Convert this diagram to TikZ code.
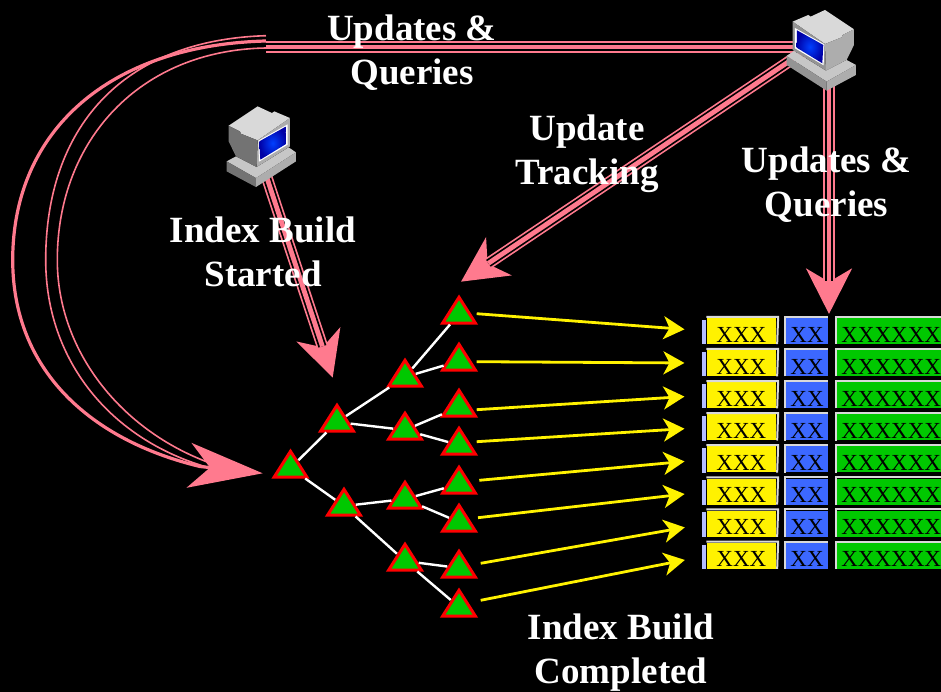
\documentclass[tikz,border=0pt]{standalone}
\usepackage{fontspec}
\setmainfont{Liberation Serif}
\usetikzlibrary{shapes.geometric,arrows.meta}
\definecolor{pinkline}{RGB}{255,122,142}
\definecolor{cellblue}{RGB}{60,104,255}
\definecolor{cellgreen}{RGB}{0,200,0}
\definecolor{stripblue}{RGB}{180,190,255}
\tikzset{
  tree/.style={isosceles triangle,isosceles triangle stretches,shape border rotate=90,draw=red,fill=cellgreen,line width=3pt,minimum width=32.6pt,minimum height=25.7pt,inner sep=0pt,anchor=lower side},
  branch/.style={draw=white,line width=2.4pt},
  yarrow/.style={draw=yellow,line width=2.8pt,shorten >=22pt,-{Stealth[length=21pt,width=23pt,inset=6pt]}},
  tripleline/.style={draw=pinkline,line width=11.6pt,postaction={draw=black,line width=8.2pt},postaction={draw=pinkline,line width=4.8pt}},
  tripletip/.style={draw=pinkline,line width=11.6pt,-{Stealth[length=45pt,width=45pt,inset=13pt]},postaction={draw=black,line width=8.2pt,arrows=-,shorten >=33pt},postaction={draw=pinkline,line width=4.8pt,arrows=-,shorten >=33pt}},
  cell/.style={inner sep=0pt,text=black,font=\fontsize{23}{23}\selectfont,text height=22pt,text depth=0pt,minimum height=26pt},
  bevel/.style={draw=black!15,line width=2pt},
  bigtext/.style={text=white,font=\bfseries\fontsize{37}{44}\selectfont,align=center},
  pics/pcbox/.style 2 args={code={
    % base
    \fill[black!22] (-104,17) -- (-82,2) -- (14,61) -- (76,29) -- (104,44) -- (16,94) -- cycle;
    \fill[black!#2] (-104,17) -- (16,94) -- (16,121) -- (-104,44) -- cycle;
    \fill[black!#1] (16,94) -- (104,44) -- (104,74) -- (16,121) -- cycle;
    % monitor
    \fill[black!15] (-86,-86) -- (-39,-106) -- (-32,-101) -- (11,-121) -- (98,-63) -- (64,-46) -- (61,-39) -- (11,-19) -- cycle;
    \fill[black!#2] (-86,-86) -- (11,-19) -- (14,61) -- (-86,-1) -- cycle;
    \fill[black!#1] (11,-19) -- (61,-39) -- (64,-46) -- (98,-63) -- (98,-16) -- (76,29) -- (14,61) -- cycle;
    % screen
    \fill[white] (-79,-67) -- (9,-18) -- (7,45) -- (-79,-6) -- cycle;
    \shade[inner color=blue!75!cyan,outer color=blue!65!black] (-73,-60) -- (6,-16) -- (3,39) -- (-74,-8) -- cycle;
  }}
}
\begin{document}
\begin{tikzpicture}[x=1pt,y=-1pt]
\useasboundingbox (0,0) rectangle (941,692);
\clip (0,0) rectangle (941,692);
\fill[black] (0,0) rectangle (941,692);
% Pages
\foreach \i in {1,...,8} {
  \pgfmathsetmacro\ry{331+(\i-1)*32.1}
  \node[cell,fill=yellow,minimum width=69.3pt] (a\i) at (741.3,\ry) {XXX};
  \node[cell,fill=cellblue,minimum width=42pt] (b\i) at (807,\ry) {XX};
  \node[cell,fill=cellgreen,text width=104.3pt,align=right] (c\i) at (888.85,\ry) {XXXXXX};
  \draw[bevel] ([yshift=1pt]a\i.north west) -- ([yshift=1pt,xshift=2pt]a\i.north east) -- ([xshift=1pt]a\i.south east);
  \draw[stripblue,line width=3.6pt] ([xshift=-2.5pt,yshift=-2pt]a\i.north west) -- ([xshift=-2.5pt]a\i.south west);
  \draw[bevel] ([xshift=-1pt]b\i.south west) -- ([xshift=-1pt,yshift=1pt]b\i.north west) -- ([yshift=1pt]b\i.north east);
  \draw[bevel] ([xshift=-1pt]c\i.south west) -- ([xshift=-1pt,yshift=1pt]c\i.north west) -- ([yshift=1pt]c\i.north east);
}
% Tree
\node[tree] (root) at (290.5,478.5) {};
\node[tree] (na) at (337,432.5) {};
\node[tree] (nb) at (344,516.5) {};
\node[tree] (nc) at (405,387.5) {};
\node[tree] (nd) at (405,440.5) {};
\node[tree] (ne) at (405,509.5) {};
\node[tree] (nf) at (405,571.5) {};
\node[tree] (s1) at (459,324.5) {};
\node[tree] (s2) at (459,371.5) {};
\node[tree] (s3) at (459,417.5) {};
\node[tree] (s4) at (459,455.5) {};
\node[tree] (s5) at (459,494.5) {};
\node[tree] (s6) at (459,532.5) {};
\node[tree] (s7) at (459,578.5) {};
\node[tree] (s8) at (459,617.5) {};
\foreach \p/\q in {root/na,na/nc,na/nd,nc/s1,nc/s2,nd/s3,nd/s4,root/nb,nb/ne,nb/nf,ne/s5,ne/s6,nf/s7,nf/s8}
  \draw[branch] (\p) -- (\q);
% Leaf to page
\foreach \i/\x/\y in {1/476.7/313.7,2/476.7/361.7,3/476.7/409.7,4/476.7/441.7,5/479.3/480.3,6/478/517.7,7/480.7/563.3,8/480.7/600.3} {
  \coordinate (y\i) at (\x,\y);
  \draw[yarrow] (y\i) -- (a\i.west);
}
% Updates and queries, long way round
\coordinate (qtop) at (266,47);
\coordinate (qpc) at (810,47);
\coordinate (qa) at (266,41);
\coordinate (qb) at (266,35.7);
\coordinate (qc) at (266,48);
\coordinate (qtip) at (262.7,473.3);
\draw[tripleline] (qtop) -- (qpc);
\draw[pinkline,line width=1.6pt] (qb) .. controls (120,40) and (45.7,130) .. (45.7,260) .. controls (45.7,360) and (110,440) .. (210,468);
\draw[pinkline,line width=1.6pt] (qc) .. controls (140,50) and (57.3,140) .. (57.3,260) .. controls (57.3,350) and (120,430) .. (210,463);
\draw[pinkline,line width=3.2pt,-{Stealth[length=74pt,width=45pt,inset=21pt]}] (qa) .. controls (110,45) and (12.7,130) .. (12.7,260) .. controls (12.7,370) and (90,440) .. (200,466.5) -- (qtip);
% Other pink arrows
\coordinate (ubase) at (266,175);
\coordinate (utip) at (332.7,377.7);
\coordinate (tbase) at (815,44);
\coordinate (ttip) at (461,281.7);
\coordinate (pbase) at (829,85);
\coordinate (ptip) at (829,314);
\draw[tripletip] (ubase) -- (utip);
\draw[tripletip] (tbase) -- (ttip);
\draw[tripletip] (pbase) -- (ptip);
% Computers
\pic[scale=1/3] at (821.3,50.3) {pcbox={32}{42}};
\pic[xscale=-1,scale=1/3] at (261.3,146.7) {pcbox={55}{32}};
% Labels
\node[bigtext] (lquery) at (412,53) {Updates \&\\Queries};
\node[bigtext] (ltrack) at (587,153.5) {Update\\Tracking};
\node[bigtext] (lpage) at (826.5,185) {Updates \&\\Queries};
\node[bigtext] (lstart) at (263,252) {Index Build\\Started};
\node[bigtext] (ldone) at (621,652.5) {Index Build\\Completed};
\end{tikzpicture}
\end{document}
